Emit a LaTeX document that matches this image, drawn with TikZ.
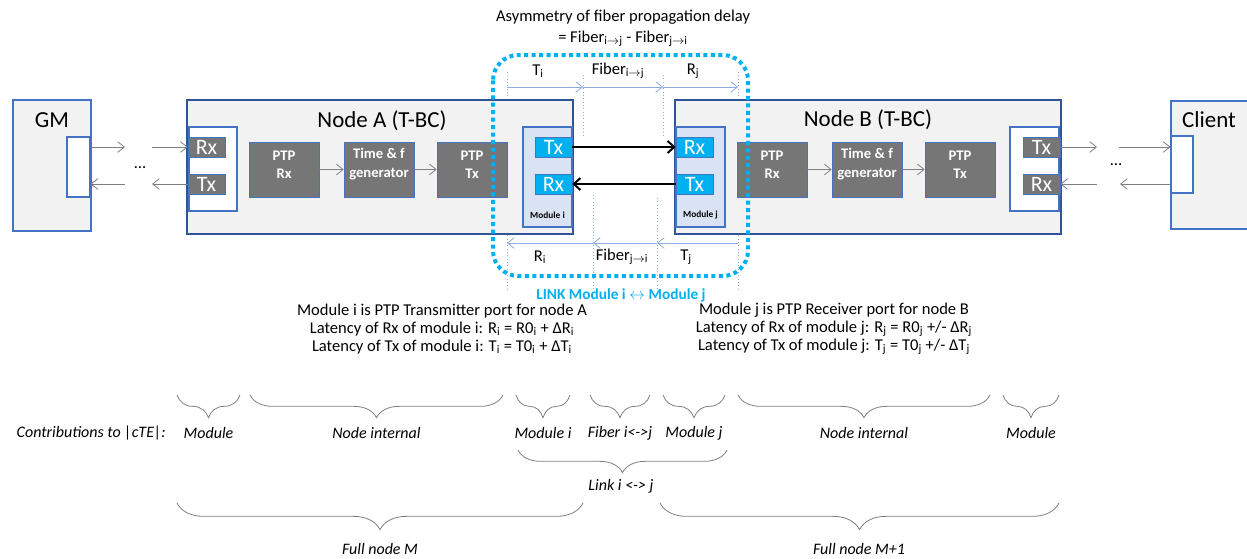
\documentclass[tikz,border=0pt]{standalone}
\usepackage{fontspec}
\setmainfont{Carlito}
\usetikzlibrary{arrows.meta,fit,decorations.pathreplacing}
\definecolor{nodeblue}{HTML}{2F5597}
\definecolor{thinblue}{HTML}{4472C4}
\definecolor{boxgray}{HTML}{767676}
\definecolor{linkcyan}{HTML}{00B0F0}
\definecolor{modfill}{HTML}{DAE3F3}
\definecolor{bgfill}{HTML}{F2F2F2}
\definecolor{dimblue}{HTML}{8FAADC}
\definecolor{arrgray}{HTML}{7F7F7F}
\newcommand{\fsz}[2]{\fontsize{#1}{#2}\selectfont}

\begin{document}
\begin{tikzpicture}[x=0.75pt, y=-0.75pt, font=\fsz{12.4}{14.5},
    frame/.style ={draw=thinblue, fill=bgfill, line width=0.8pt, inner sep=0pt},
    tbc/.style   ={draw=nodeblue, fill=bgfill, line width=2pt, inner sep=0pt},
    portbox/.style={draw=thinblue, fill=white, line width=0.8pt, inner sep=0pt},
    gport/.style ={draw=thinblue, fill=boxgray, text=white, font=\fsz{16.5}{16.5},
                   minimum width=27.75pt, minimum height=15pt, inner sep=0pt},
    cport/.style ={gport, fill=linkcyan},
    ptp/.style   ={draw=thinblue, fill=boxgray, text=white, font=\fsz{11}{14}\bfseries, align=center, inner sep=0pt},
    modbox/.style={draw=thinblue, fill=modfill, line width=0.8pt, inner sep=0pt},
    modlbl/.style={font=\fsz{7}{8.4}\bfseries, anchor=south},
    title/.style ={font=\fsz{17.2}{19}},
    garr/.style  ={draw=arrgray, line width=0.6pt, -{Straight Barb[length=5pt,width=8pt]}},
    farr/.style  ={draw=black, line width=1.5pt, -{Straight Barb[length=5pt,width=9pt]}},
    dim/.style   ={draw=dimblue, line width=0.6pt, -{Straight Barb[length=5pt,width=8pt]}},
    guide/.style ={draw=dimblue, line width=0.5pt, dotted},
    brc/.style   ={draw=arrgray, line width=0.6pt, decorate, decoration={brace, mirror, amplitude=#1}},
    brc/.default=17pt,
    ctb/.style   ={font=\fsz{12}{14}\itshape},
  ]
  \useasboundingbox (0,0) rectangle (1247,558);

  % dimension guides (behind the nodes)
  \draw[guide] (507,72) -- (507,290);
  \draw[guide] (738,72) -- (738,290);
  \draw[guide] (583,75) -- (583,137);
  \draw[guide] (663,75) -- (663,137);
  \draw[guide] (593,195) -- (593,290);
  \draw[guide] (657,198) -- (657,290);

  % GM and client
  \node[frame, fit={(13,100) (91,231)}] (gm) {};
  \node[title] (gmt) at (52,120) {GM};
  \node[portbox, fit={(67,137) (90,197)}] (gmport) {};
  \node[frame, fit={(1171,101) (1262,229)}] (cl) {};
  \node[title] (clt) at (1209,120) {Client};
  \node[portbox, fit={(1171,136) (1193,193)}] (clport) {};

  % Node A
  \node[tbc, fit={(187,100) (573,234)}] (nodea) {};
  \node[title] (tita) at (382,121) {Node A (T-BC)};
  \node[portbox, fit={(189,127) (237,211)}] (pba) {};
  \node[gport] (rxa) at (206.5,147) {Rx};
  \node[gport] (txa) at (206.5,184) {Tx};
  \node[ptp, fit={(249,142) (319,197)}] (ptprxa) {PTP\\Rx};
  \node[ptp, fit={(344,142) (414,197)}] (timea) {Time \& f\\generator};
  \node[ptp, fit={(437,142) (507,197)}] (ptptxa) {PTP\\Tx};
  \node[modbox, fit={(523,127) (572,227)}] (modi) {};
  \node[modlbl] (modil) at ([yshift=3pt]modi.south) {Module i};
  \node[cport] (txi) at (553.5,147) {Tx};
  \node[cport] (rxi) at (553.5,184) {Rx};

  % Node B
  \node[tbc, fit={(675,100) (1061,234)}] (nodeb) {};
  \node[title] (titb) at (868,120) {Node B (T-BC)};
  \node[modbox, fit={(676,127) (725,227)}] (modj) {};
  \node[modlbl] (modjl) at ([yshift=3pt]modj.south) {Module j};
  \node[cport] (rxj) at (694.5,147) {Rx};
  \node[cport] (txj) at (694.5,184) {Tx};
  \node[ptp, fit={(737,142) (807,197)}] (ptprxb) {PTP\\Rx};
  \node[ptp, fit={(832,142) (902,197)}] (timeb) {Time \& f\\generator};
  \node[ptp, fit={(925,142) (995,197)}] (ptptxb) {PTP\\Tx};
  \node[portbox, fit={(1010,127) (1059,211)}] (pbb) {};
  \node[gport] (txb) at (1041.5,147) {Tx};
  \node[gport] (rxb) at (1041.5,184) {Rx};

  % internal arrows
  \draw[garr] (ptprxa) -- (timea);
  \draw[garr] (timea) -- (ptptxa);
  \draw[garr] (ptprxb) -- (timeb);
  \draw[garr] (timeb) -- (ptptxb);

  % fiber link
  \draw[farr] (txi) -- (rxj);
  \draw[farr] (txj) -- (rxi);

  % GM side
  \coordinate (ga1) at (125,147);
  \coordinate (ga2) at (152,147);
  \coordinate (ga3) at (152,184);
  \coordinate (ga4) at (125,184);
  \draw[garr] (rxa.west -| gmport.east) -- (ga1);
  \draw[garr] (ga2) -- (rxa.west);
  \draw[garr] (txa.west) -- (ga3);
  \draw[garr] (ga4) -- (txa.west -| gmport.east);
  \node (dotsa) at (140,168) {\ldots};

  % client side
  \coordinate (gb1) at (1097,147);
  \coordinate (gb2) at (1119,147);
  \coordinate (gb3) at (1097,184);
  \coordinate (gb4) at (1120,184);
  \draw[garr] (txb.east) -- (gb1);
  \draw[garr] (gb2) -- (txb.east -| clport.west);
  \draw[garr] (gb3) -- (rxb.east);
  \draw[garr] (rxb.east -| clport.west) -- (gb4);
  \node (dotsb) at (1116,165) {\ldots};

  % latencies
  \coordinate (t1) at (507,87);
  \coordinate (t2) at (583,87);
  \coordinate (t3) at (663,87);
  \coordinate (t4) at (738,87);
  \draw[dim] (t1) -- (t2);
  \draw[dim] (t2) -- (t3);
  \draw[dim] (t3) -- (t4);
  \coordinate (b1) at (507,243);
  \coordinate (b2) at (593,243);
  \coordinate (b3) at (657,243);
  \coordinate (b4) at (738,243);
  \draw[dim] (b4) -- (b3);
  \draw[dim] (b3) -- (b2);
  \draw[dim] (b2) -- (b1);
  \node (lti) at (538,71) {T\textsubscript{i}};
  \node (lfij) at (618,71) {Fiber\textsubscript{i$\rightarrow$j}};
  \node (lrj) at (693,71) {R\textsubscript{j}};
  \node (lri) at (540,257) {R\textsubscript{i}};
  \node (lfji) at (622,257) {Fiber\textsubscript{j$\rightarrow$i}};
  \node (ltj) at (686,257) {T\textsubscript{j}};

  % link frame
  \draw[linkcyan, line width=3pt, dash pattern=on 3pt off 2.6pt, rounded corners=19pt] (493,55) rectangle (748,276);
  \node[align=center, font=\fsz{12.4}{15.75}] (asym) at (623,28)
    {Asymmetry of fiber propagation delay\\= Fiber\textsubscript{i$\rightarrow$j} - Fiber\textsubscript{j$\rightarrow$i}};
  \node[text=linkcyan, font=\fsz{11.5}{13}\bfseries] (link) at (621,295) {LINK Module i $\leftrightarrow$ Module j};

  \node[align=center, font=\fsz{12.4}{13.5}] (desci) at (442,329)
    {Module i is PTP Transmitter port for node A\\
     Latency of Rx of module i: R\textsubscript{i} = R0\textsubscript{i} + ΔR\textsubscript{i}\\
     Latency of Tx of module i: T\textsubscript{i} = T0\textsubscript{i} + ΔT\textsubscript{i}};
  \node[align=center, font=\fsz{12.4}{13.5}] (descj) at (834,329)
    {Module j is PTP Receiver port for node B\\
     Latency of Rx of module j: R\textsubscript{j} = R0\textsubscript{j} +/- ΔR\textsubscript{j}\\
     Latency of Tx of module j: T\textsubscript{j} = T0\textsubscript{j} +/- ΔT\textsubscript{j}};

  % contributions
  \node[ctb, anchor=west] (contr) at (12,433) {Contributions to |cTE|:};
  \foreach \xa/\xb/\txt [count=\k] in {177/240/Module, 250/503/Node internal, 516/570/Module i,
      590/650/Fiber i<->j, 663/725/Module j, 738/990/Node internal, 1003/1059/Module}{
    \draw[brc] (\xa,395) -- (\xb,395);
    \node[ctb] (ct\k) at ({(\xa+\xb)/2},433) {\txt};
  }
  \draw[brc] (518,450) -- (727,450);
  \node[ctb] (clink) at (621,486) {Link i <-> j};
  \draw[brc=20pt] (177,503) -- (583,503);
  \node[ctb] (cfm) at (380,549) {Full node M};
  \draw[brc=20pt] (660,503) -- (1059,503);
  \node[ctb] (cfm1) at (859,549) {Full node M+1};
\end{tikzpicture}
\end{document}
